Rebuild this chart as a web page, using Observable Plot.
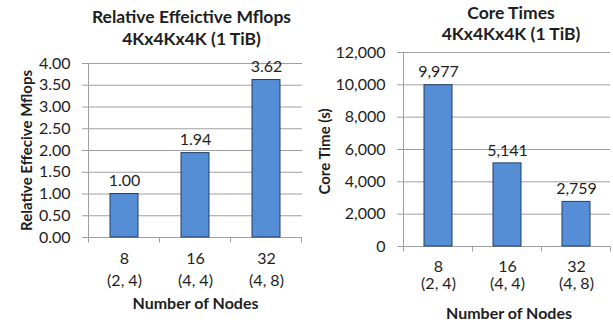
<!DOCTYPE html>
<html>
<head>
<meta charset="utf-8">
<script src="https://cdn.jsdelivr.net/npm/d3@7"></script>
<script src="https://cdn.jsdelivr.net/npm/@observablehq/plot@0.6"></script>
<style>
  html, body { margin: 0; padding: 0; background: #fff; }
  #charts { position: relative; width: 613px; height: 323px; overflow: hidden; }
  #charts svg { position: absolute; top: 0; }
</style>
</head>
<body>
<div id="charts"></div>
<script>
// Node counts and their (rows, cols) process grids
const nodes = ["8", "16", "32"];
const grids = ["(2, 4)", "(4, 4)", "(4, 8)"];

// Relative effective Mflops per node count
const mflops = [1.00, 1.94, 3.62];
const mflopsTicks = [0, 0.5, 1, 1.5, 2, 2.5, 3, 3.5, 4];

// Core time in seconds per node count
const coreTimes = [9977, 5141, 2759];
const coreTicks = [0, 2000, 4000, 6000, 8000, 10000, 12000];

const font = "Lato, 'Open Sans', sans-serif";
const ink = "#1e1e1e";
const gridColor = "#a0a0a0";
const barFill = "#558ed5";
const barStroke = "#223f66";

// Vertical axis line plus the small ticks that separate the categories
function frameLines(index, scales, values, dims) {
  const {width, height, marginLeft, marginRight, marginBottom, marginTop} = dims;
  const x = scales.x;
  const y0 = height - marginBottom + 0.5;
  const step = x.step ? x.step() : (width - marginLeft - marginRight) / nodes.length;
  const bw = x.bandwidth ? x.bandwidth() : 0;
  const g = d3.create("svg:g").attr("stroke", gridColor).attr("fill", "none");
  g.append("line")
    .attr("x1", marginLeft + 0.5).attr("x2", marginLeft + 0.5)
    .attr("y1", marginTop).attr("y2", y0 + 5);
  for (const n of nodes) {
    const xr = Math.round(x(n) + bw / 2 + step / 2) - 0.5;
    g.append("line").attr("x1", xr).attr("x2", xr).attr("y1", y0).attr("y2", y0 + 5);
  }
  return g.node();
}

function chart({values, ticks, format, titles, yLabel, width, margins, t}) {
  const rows = nodes.map((n, i) => ({node: n, grid: grids[i], value: values[i]}));
  const [mt, mr, mb, ml] = margins;
  const label = {lineAnchor: "middle", textAnchor: "middle", fill: ink};
  return Plot.plot({
    width,
    height: 323,
    marginTop: mt,
    marginRight: mr,
    marginBottom: mb,
    marginLeft: ml,
    style: {fontFamily: font, color: ink, background: "transparent", overflow: "visible"},
    x: {domain: nodes, paddingInner: 0.6, paddingOuter: 0.3, axis: null},
    y: {domain: [ticks[0], ticks[ticks.length - 1]], axis: null},
    marks: [
      Plot.gridY(ticks, {stroke: gridColor, strokeOpacity: 1}),
      Plot.axisY(ticks, {
        tickFormat: format, tickSize: 6, tickPadding: 12,
        stroke: gridColor, fill: ink, fontSize: 16, label: null
      }),
      frameLines,
      Plot.barY(rows, {x: "node", y: "value", fill: barFill, stroke: barStroke, strokeWidth: 1}),
      Plot.text(rows, {x: "node", y: "value", text: d => format(d.value), dy: t.value, fontSize: 16, ...label}),
      Plot.text(rows, {x: "node", text: "node", frameAnchor: "bottom", dy: t.node, fontSize: 16, ...label}),
      Plot.text(rows, {x: "node", text: "grid", frameAnchor: "bottom", dy: t.grid, fontSize: 16, ...label}),
      Plot.text(["Number of Nodes"], {text: d => d, frameAnchor: "bottom", dx: t.xdx, dy: t.xlabel, fontSize: 16, fontWeight: "bold", ...label}),
      Plot.text([yLabel], {text: d => d, frameAnchor: "left", rotate: -90, dx: t.ylabel, dy: t.ydy, fontSize: 15, fontWeight: "bold", ...label}),
      Plot.text([titles[0]], {text: d => d, frameAnchor: "top", dx: t.tdx, dy: t.title1, fontSize: 17.5, fontWeight: "bold", ...label}),
      Plot.text([titles[1]], {text: d => d, frameAnchor: "top", dx: t.tdx, dy: t.title2, fontSize: 17.5, fontWeight: "bold", ...label})
    ]
  });
}

const left = chart({
  values: mflops,
  ticks: mflopsTicks,
  format: d3.format(".2f"),
  titles: ["Relative Effeictive Mflops", "4Kx4Kx4K (1 TiB)"],
  yLabel: "Relative Effecive Mflops",
  width: 306,
  margins: [63, 4, 86, 88],
  t: {value: -13, node: 21, grid: 43, xlabel: 66, xdx: 0, ylabel: -61, ydy: 0, tdx: -4, title1: -46.5, title2: -24.5}
});
left.style.left = "0px";

const right = chart({
  values: coreTimes,
  ticks: coreTicks,
  format: d3.format(","),
  titles: ["Core Times", "4Kx4Kx4K (1 TiB)"],
  yLabel: "Core Time (s)",
  width: 307,
  margins: [52, 3, 77, 97],
  t: {value: -13, node: 20, grid: 37.5, xlabel: 67, xdx: 2, ylabel: -78, ydy: 2, tdx: 4, title1: -39.5, title2: -18.5}
});
right.style.left = "306px";

document.getElementById("charts").append(left, right);
</script>
</body>
</html>
